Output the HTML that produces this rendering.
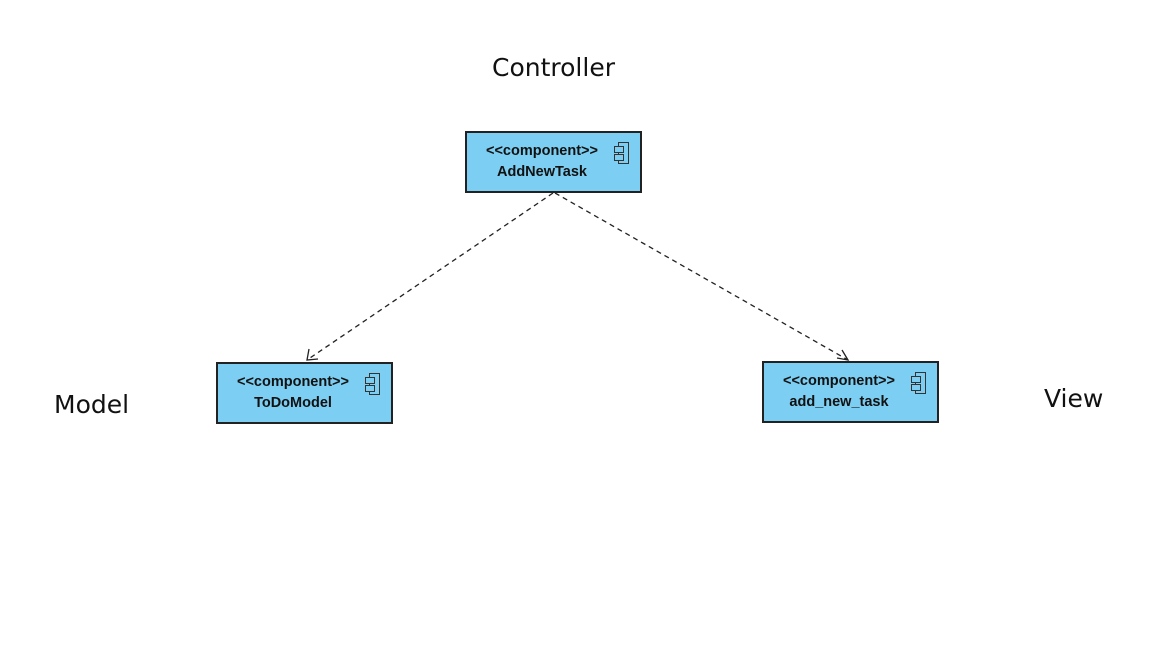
<!DOCTYPE html>
<html><head><style>
body{margin:0;width:1152px;height:648px;background:#fff;overflow:hidden;position:relative;font-family:"Liberation Sans",sans-serif}
.lbl{position:absolute;font-family:"DejaVu Sans","Liberation Sans",sans-serif;font-size:25px;color:#111;line-height:1}
.box{position:absolute;width:177px;height:62px;background:#7CCFF3;border:2px solid #222;box-sizing:border-box}
.box .s{position:absolute;top:8px;left:0;width:150px;text-align:center;font-weight:bold;font-size:14.5px;line-height:21px;color:#111}
.ic{position:absolute;right:11px;top:9px;width:9px;height:20px;border:1.5px solid #333}
.ic:before,.ic:after{content:"";position:absolute;left:-5px;width:8px;height:5px;border:1.5px solid #333;background:#7CCFF3}
.ic:before{top:3px}.ic:after{top:11px}
</style></head><body>
<div class="lbl" style="left:492px;top:55px">Controller</div>
<div class="lbl" style="left:54px;top:392px">Model</div>
<div class="lbl" style="left:1044px;top:386px">View</div>
<svg width="1152" height="648" style="position:absolute;left:0;top:0">
<g stroke="#222" stroke-width="1.3" fill="none">
<line x1="553" y1="193" x2="307" y2="360" stroke-dasharray="5,4"/>
<line x1="555" y1="193" x2="848" y2="360" stroke-dasharray="5,4"/>
<polyline points="309,349 307,360 318,359"/>
<polyline points="837,358 848,360 842,350"/>
</g></svg>
<div class="box" style="left:465px;top:131px"><div class="s">&lt;&lt;component&gt;&gt;<br>AddNewTask</div><div class="ic"></div></div>
<div class="box" style="left:216px;top:362px"><div class="s">&lt;&lt;component&gt;&gt;<br>ToDoModel</div><div class="ic"></div></div>
<div class="box" style="left:762px;top:361px"><div class="s">&lt;&lt;component&gt;&gt;<br>add_new_task</div><div class="ic"></div></div>
</body></html>
